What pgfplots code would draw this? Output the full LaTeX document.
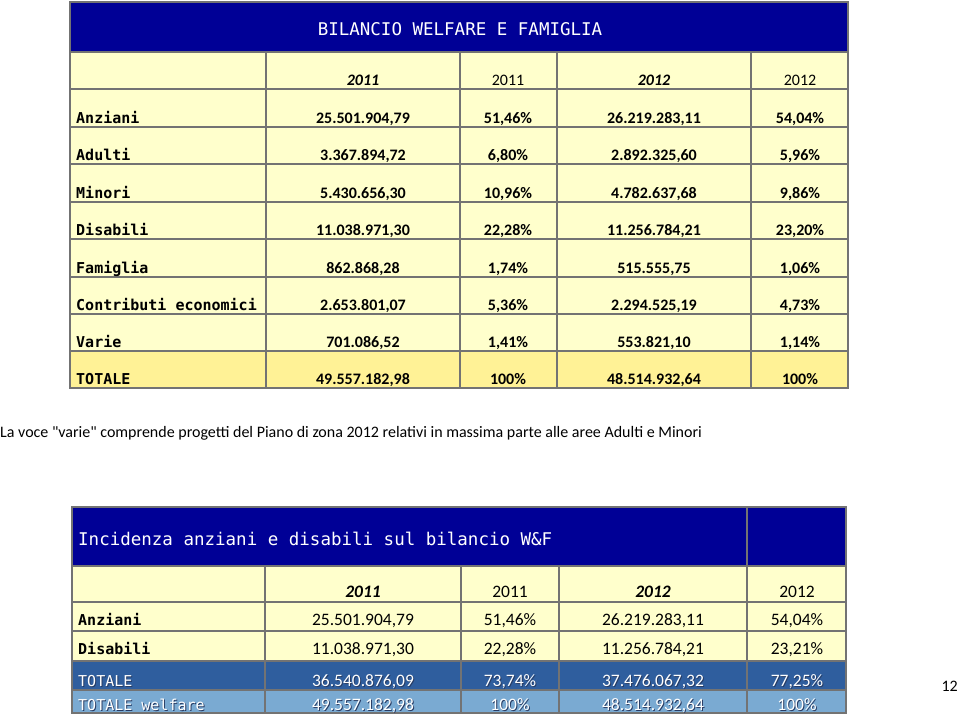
\documentclass[border=0pt]{standalone}
\usepackage{fontspec}
\setmainfont{Carlito}
\newfontfamily\capfont{Carlito}[Ligatures=TeXOff]
\newfontfamily\mono{DejaVu Sans Mono}
\usepackage{pgfplots}
\pgfplotsset{compat=1.18}
\definecolor{navy}{RGB}{0,0,150}
\definecolor{cellY}{RGB}{255,255,204}
\definecolor{totY}{RGB}{255,242,150}
\definecolor{gridG}{RGB}{115,115,115}
\definecolor{totB}{RGB}{47,94,158}
\definecolor{welB}{RGB}{122,170,210}
\definecolor{shadB}{RGB}{40,60,100}
\newcommand\fA{\fontsize{15}{18}\selectfont\mono\bfseries}
\newcommand\fN{\fontsize{16}{19}\selectfont\bfseries}
\newcommand\rowA[6]{%
 \node[anchor=base west,font=\fA,inner sep=0pt] at (axis cs:76,#1) {#2};
 \node[anchor=base,font=\fN,inner sep=0pt] at (axis cs:363,#1) {#3};
 \node[anchor=base,font=\fN,inner sep=0pt] at (axis cs:508,#1) {#4};
 \node[anchor=base,font=\fN,inner sep=0pt] at (axis cs:654,#1) {#5};
 \node[anchor=base,font=\fN,inner sep=0pt] at (axis cs:800,#1) {#6};}
\newcommand\rowB[7]{%
 \node[anchor=base west,font=\fontsize{15}{18}\selectfont\mono#7,inner sep=0pt] at (axis cs:78,#1) {#2};
 \node[anchor=base,font=\fontsize{17.5}{20}\selectfont,inner sep=0pt] at (axis cs:363,#1) {#3};
 \node[anchor=base,font=\fontsize{17.5}{20}\selectfont,inner sep=0pt] at (axis cs:510,#1) {#4};
 \node[anchor=base,font=\fontsize{17.5}{20}\selectfont,inner sep=0pt] at (axis cs:653,#1) {#5};
 \node[anchor=base,font=\fontsize{17.5}{20}\selectfont,inner sep=0pt] at (axis cs:797,#1) {#6};}
\begin{document}
\begin{tikzpicture}
\begin{axis}[width=960pt,height=718pt,scale only axis,xmin=0,xmax=960,ymin=0,ymax=718,y dir=reverse,hide axis,clip=false]
\addplot[draw=none,mark=none] coordinates {(0,0) (960,718)};
% ---------- table 1 ----------
\fill[navy] (axis cs:70,2) rectangle (axis cs:848,52);
\fill[cellY] (axis cs:70,52) rectangle (axis cs:848,351);
\fill[totY] (axis cs:70,351) rectangle (axis cs:848,388);
\draw[gridG,line width=1.5pt] (axis cs:70,2) rectangle (axis cs:848,388);
\draw[gridG,line width=1.5pt]
 (axis cs:70,52) -- (axis cs:848,52)
 (axis cs:70,89) -- (axis cs:848,89)
 (axis cs:70,127) -- (axis cs:848,127)
 (axis cs:70,164) -- (axis cs:848,164)
 (axis cs:70,202) -- (axis cs:848,202)
 (axis cs:70,239) -- (axis cs:848,239)
 (axis cs:70,277) -- (axis cs:848,277)
 (axis cs:70,314) -- (axis cs:848,314)
 (axis cs:70,351) -- (axis cs:848,351)
 (axis cs:266,52) -- (axis cs:266,388)
 (axis cs:460,52) -- (axis cs:460,388)
 (axis cs:557,52) -- (axis cs:557,388)
 (axis cs:751,52) -- (axis cs:751,388);
\node[anchor=base,font=\fontsize{17.5}{20}\selectfont\mono,text=white,inner sep=0pt] at (axis cs:460,35) {BILANCIO WELFARE E FAMIGLIA};
\node[anchor=base,font=\fN\itshape,inner sep=0pt] at (axis cs:363,85) {2011};
\node[anchor=base,font=\fontsize{16}{19}\selectfont,inner sep=0pt] at (axis cs:508,85) {2011};
\node[anchor=base,font=\fN\itshape,inner sep=0pt] at (axis cs:654,85) {2012};
\node[anchor=base,font=\fontsize{16}{19}\selectfont,inner sep=0pt] at (axis cs:800,85) {2012};
\rowA{123}{Anziani}{25.501.904,79}{51,46\%}{26.219.283,11}{54,04\%}
\rowA{160}{Adulti}{3.367.894,72}{6,80\%}{2.892.325,60}{5,96\%}
\rowA{198}{Minori}{5.430.656,30}{10,96\%}{4.782.637,68}{9,86\%}
\rowA{235}{Disabili}{11.038.971,30}{22,28\%}{11.256.784,21}{23,20\%}
\rowA{273}{Famiglia}{862.868,28}{1,74\%}{515.555,75}{1,06\%}
\rowA{310}{Contributi economici}{2.653.801,07}{5,36\%}{2.294.525,19}{4,73\%}
\rowA{347}{Varie}{701.086,52}{1,41\%}{553.821,10}{1,14\%}
\rowA{384}{TOTALE}{49.557.182,98}{100\%}{48.514.932,64}{100\%}
% ---------- caption ----------
\node[anchor=base west,font=\fontsize{16}{19}\selectfont\capfont,inner sep=0pt] at (axis cs:0,437) {La voce "varie" comprende progetti del Piano di zona 2012 relativi in massima parte alle aree Adulti e Minori};
% ---------- table 2 ----------
\fill[navy] (axis cs:72,507) rectangle (axis cs:846,566);
\fill[cellY] (axis cs:72,566) rectangle (axis cs:846,661);
\fill[totB] (axis cs:72,661) rectangle (axis cs:846,690);
\fill[welB] (axis cs:72,690) rectangle (axis cs:846,713);
\draw[gridG,line width=1.5pt] (axis cs:72,507) rectangle (axis cs:846,713);
\draw[gridG,line width=1.5pt]
 (axis cs:72,566) -- (axis cs:846,566)
 (axis cs:72,602) -- (axis cs:846,602)
 (axis cs:72,631) -- (axis cs:846,631)
 (axis cs:72,661) -- (axis cs:846,661)
 (axis cs:72,690) -- (axis cs:846,690)
 (axis cs:265,566) -- (axis cs:265,713)
 (axis cs:461,566) -- (axis cs:461,713)
 (axis cs:559,566) -- (axis cs:559,713)
 (axis cs:747,507) -- (axis cs:747,713);
\node[anchor=base west,font=\fontsize{17.5}{20}\selectfont\mono,text=white,inner sep=0pt] at (axis cs:78,545) {Incidenza anziani e disabili sul bilancio W\&F};
\node[anchor=base,font=\fontsize{17.5}{20}\selectfont\bfseries\itshape,inner sep=0pt] at (axis cs:363,597) {2011};
\node[anchor=base,font=\fontsize{17.5}{20}\selectfont,inner sep=0pt] at (axis cs:510,597) {2011};
\node[anchor=base,font=\fontsize{17.5}{20}\selectfont\bfseries\itshape,inner sep=0pt] at (axis cs:653,597) {2012};
\node[anchor=base,font=\fontsize{17.5}{20}\selectfont,inner sep=0pt] at (axis cs:797,597) {2012};
\rowB{625}{Anziani}{25.501.904,79}{51,46\%}{26.219.283,11}{54,04\%}{\bfseries}
\rowB{654}{Disabili}{11.038.971,30}{22,28\%}{11.256.784,21}{23,21\%}{\bfseries}
\begin{scope}[text=shadB,xshift=1pt]
\rowB{687}{TOTALE}{36.540.876,09}{73,74\%}{37.476.067,32}{77,25\%}{}
\rowB{711}{TOTALE welfare}{49.557.182,98}{100\%}{48.514.932,64}{100\%}{}
\end{scope}
\begin{scope}[text=white]
\rowB{686}{TOTALE}{36.540.876,09}{73,74\%}{37.476.067,32}{77,25\%}{}
\rowB{710}{TOTALE welfare}{49.557.182,98}{100\%}{48.514.932,64}{100\%}{}
\end{scope}
\node[anchor=base east,font=\fontsize{16}{19}\selectfont,inner sep=0pt] at (axis cs:958,691) {12};
\end{axis}
\end{tikzpicture}
\end{document}
